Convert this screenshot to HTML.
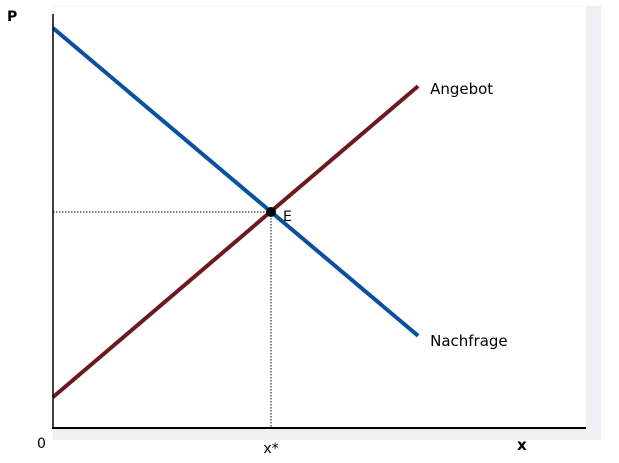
<!DOCTYPE html>
<html><head><meta charset="utf-8"><style>
body{margin:0;background:#fff;font-family:"Liberation Sans","DejaVu Sans",sans-serif}
svg text{font-family:"DejaVu Sans","Liberation Sans",sans-serif}
</style></head><body>
<svg id="chart" width="619" height="458">
<rect x="53" y="6" width="548" height="434" fill="#eef0f4"/>
<rect x="53" y="6" width="533" height="422" fill="#fff"/>
<line x1="53" y1="6.5" x2="586" y2="6.5" stroke="#f3f4f6" stroke-width="1"/>
<g id="marks"></g>
<line x1="53" y1="14" x2="53" y2="429" stroke="#000" stroke-width="1.5"/>
<line x1="52" y1="428" x2="586" y2="428" stroke="#000" stroke-width="2"/>
<text x="7" y="21" font-size="14" font-weight="bold">P</text>
<text x="517" y="450" font-size="15" font-weight="bold">x</text>
<text x="37" y="448" font-size="14">0</text>
</svg>
<script>
const xLabels=["x*"];
const supplyX=[0,68.5], supplyY=[7.6,84.2];
const demandX=[0,68.5], demandY=[98.5,22.7];
const eqX=[40.9], eqY=[53.2];
const names=["Angebot","Nachfrage"];
const sx=v=>53+v*5.33, sy=v=>428-v*4.06;
const g=document.getElementById('marks'),NS="http://www.w3.org/2000/svg";
function mk(t,a){const e=document.createElementNS(NS,t);for(const k in a)e.setAttribute(k,a[k]);g.appendChild(e);return e;}
let e=mk('line',{x1:sx(0),y1:sy(eqY[0]),x2:sx(eqX[0]),y2:sy(eqY[0]),stroke:'#000','stroke-width':1,'stroke-dasharray':'1.5,1.5'});


e=mk('line',{x1:sx(eqX[0]),y1:sy(eqY[0]),x2:sx(eqX[0]),y2:sy(0),stroke:'#000','stroke-width':1,'stroke-dasharray':'1.5,1.5'});


e=mk('line',{x1:sx(demandX[0]),y1:sy(demandY[0]),x2:sx(demandX[1]),y2:sy(demandY[1]),stroke:'#0a50a0','stroke-width':4});


e=mk('line',{x1:sx(supplyX[0]),y1:sy(supplyY[0]),x2:sx(supplyX[1]),y2:sy(supplyY[1]),stroke:'#6b1a1f','stroke-width':4});


e=mk('circle',{cx:sx(eqX[0]),cy:sy(eqY[0]),r:5,fill:'#000'});


e=mk('text',{x:sx(eqX[0])+12,y:sy(eqY[0])+9,'font-size':14});e.textContent='E';


e=mk('text',{x:sx(supplyX[1])+12,y:sy(supplyY[1])+8,'font-size':15});e.textContent=names[0];


e=mk('text',{x:sx(demandX[1])+12,y:sy(demandY[1])+10,'font-size':15});e.textContent=names[1];


e=mk('text',{x:sx(eqX[0]),y:453,'font-size':14,'text-anchor':'middle'});e.textContent=xLabels[0];


</script>
</body></html>
